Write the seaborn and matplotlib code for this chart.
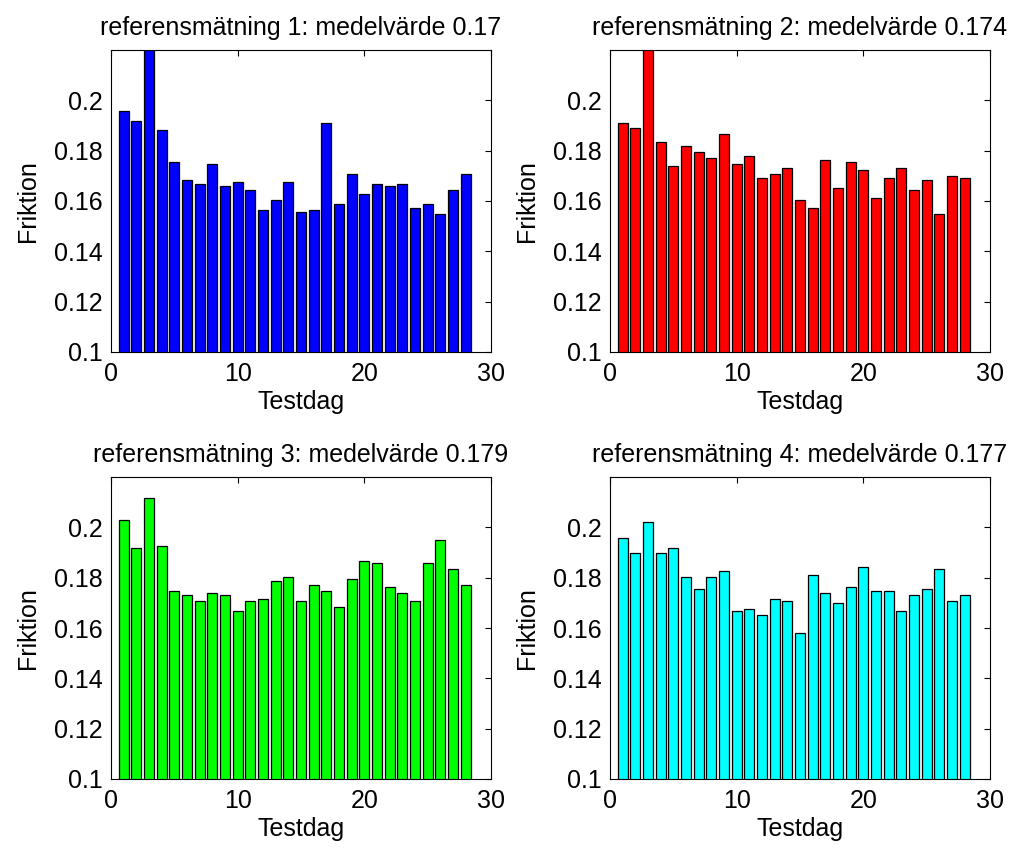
import matplotlib
matplotlib.use("Agg")
import matplotlib.pyplot as plt
import numpy as np
import pandas as pd
import seaborn as sns

# Friction per test day for the four reference measurements
days = list(range(1, 29))

ref1 = [0.1956, 0.1916, 0.2250, 0.1884, 0.1756, 0.1684, 0.1668, 0.1748,
        0.1660, 0.1676, 0.1644, 0.1564, 0.1604, 0.1676, 0.1556, 0.1564,
        0.1908, 0.1588, 0.1708, 0.1628, 0.1668, 0.1660, 0.1668, 0.1572,
        0.1588, 0.1548, 0.1644, 0.1708]
ref2 = [0.1908, 0.1892, 0.2230, 0.1836, 0.1740, 0.1820, 0.1796, 0.1772,
        0.1868, 0.1748, 0.1780, 0.1692, 0.1708, 0.1732, 0.1604, 0.1572,
        0.1764, 0.1652, 0.1756, 0.1724, 0.1612, 0.1692, 0.1732, 0.1644,
        0.1684, 0.1548, 0.1700, 0.1692]
ref3 = [0.2028, 0.1916, 0.2116, 0.1924, 0.1748, 0.1732, 0.1708, 0.1740,
        0.1732, 0.1668, 0.1708, 0.1716, 0.1788, 0.1804, 0.1708, 0.1772,
        0.1748, 0.1684, 0.1796, 0.1868, 0.1860, 0.1764, 0.1740, 0.1708,
        0.1860, 0.1948, 0.1836, 0.1772]
ref4 = [0.1956, 0.1900, 0.2020, 0.1900, 0.1916, 0.1804, 0.1756, 0.1804,
        0.1828, 0.1668, 0.1676, 0.1652, 0.1716, 0.1708, 0.1580, 0.1812,
        0.1740, 0.1700, 0.1764, 0.1844, 0.1748, 0.1748, 0.1668, 0.1732,
        0.1756, 0.1836, 0.1708, 0.1732]

titles = ["referensmätning 1: medelvärde 0.17",
          "referensmätning 2: medelvärde 0.174",
          "referensmätning 3: medelvärde 0.179",
          "referensmätning 4: medelvärde 0.177"]
colors = ["#0000FF", "#FF0000", "#00FF00", "#00FFFF"]
series = [ref1, ref2, ref3, ref4]

xticks = [0, 10, 20, 30]
yticks = [0.1, 0.12, 0.14, 0.16, 0.18, 0.2]
ytick_labels = ["0.1", "0.12", "0.14", "0.16", "0.18", "0.2"]

sns.set_style("white")
plt.rcParams["font.family"] = ["Liberation Sans", "DejaVu Sans"]
plt.rcParams.update({
    "text.color": "black",
    "axes.labelcolor": "black",
    "xtick.color": "black",
    "ytick.color": "black",
    "axes.edgecolor": "black",
})

fig = plt.figure(figsize=(10.11, 8.52), dpi=100)

# axes rectangles [left, bottom, width, height] in figure fraction
lefts = [0.1098, 0.6034, 0.1098, 0.6034]
bottoms = [0.5869, 0.5869, 0.0857, 0.0857]
w = 0.3759
h = 0.3544
fs = 18

for i, (vals, col, title) in enumerate(zip(series, colors, titles)):
    ax = fig.add_axes([lefts[i], bottoms[i], w, h])
    df = pd.DataFrame({"Testdag": days, "Friktion": vals})
    sns.barplot(data=df, x="Testdag", y="Friktion", native_scale=True,
                color=col, saturation=1, width=0.8, edgecolor="black",
                linewidth=0.9, errorbar=None, ax=ax)
    ax.set_xlim(0, 30)
    ax.set_ylim(0.1, 0.22)
    ax.set_xticks(xticks)
    ax.set_xticklabels([str(t) for t in xticks])
    ax.set_yticks(yticks)
    ax.set_yticklabels(ytick_labels)
    ax.tick_params(direction="in", top=True, right=True, length=4,
                   width=0.8, labelsize=fs, colors="black")
    ax.tick_params(axis="x", pad=7)
    ax.tick_params(axis="y", pad=6)
    for s in ax.spines.values():
        s.set_color("black")
        s.set_linewidth(0.8)
    ax.set_xlabel("Testdag", fontsize=fs, labelpad=3, color="black")
    ax.set_ylabel("Friktion", fontsize=fs, labelpad=10, color="black")
    ax.set_title(title, fontsize=fs, pad=11, color="black")

fig.savefig("out.png", dpi=100)
